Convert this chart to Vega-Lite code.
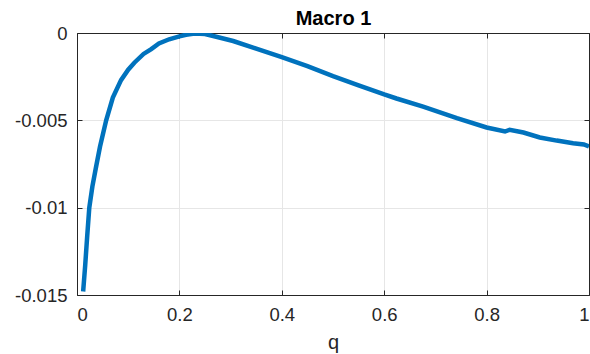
{
  "$schema": "https://vega.github.io/schema/vega-lite/v6.json",
  "width": 512,
  "height": 262,
  "autosize": "none",
  "padding": {"left": 77, "top": 33, "right": 1, "bottom": 59},
  "background": "white",
  "config": {
    "view": {"stroke": null},
    "font": "Liberation Sans",
    "axis": {
      "labelFont": "Liberation Sans",
      "titleFont": "Liberation Sans",
      "labelColor": "#262626",
      "titleColor": "#262626",
      "domainColor": "#262626",
      "tickColor": "#262626",
      "gridColor": "#e6e6e6",
      "gridWidth": 1,
      "domainWidth": 1,
      "tickWidth": 1
    }
  },
  "data": {
    "values": [
      {"q": 0.012, "v": -0.0148},
      {"q": 0.016, "v": -0.0133},
      {"q": 0.020, "v": -0.0116},
      {"q": 0.024, "v": -0.0100},
      {"q": 0.030, "v": -0.0088},
      {"q": 0.037, "v": -0.0077},
      {"q": 0.045, "v": -0.0065},
      {"q": 0.057, "v": -0.0050},
      {"q": 0.070, "v": -0.0037},
      {"q": 0.086, "v": -0.0027},
      {"q": 0.100, "v": -0.0021},
      {"q": 0.112, "v": -0.0017},
      {"q": 0.130, "v": -0.0012},
      {"q": 0.145, "v": -0.00092},
      {"q": 0.160, "v": -0.0006},
      {"q": 0.180, "v": -0.00036},
      {"q": 0.200, "v": -0.00019},
      {"q": 0.213, "v": -0.0001},
      {"q": 0.230, "v": -0.00003},
      {"q": 0.250, "v": -0.00006},
      {"q": 0.270, "v": -0.0002},
      {"q": 0.305, "v": -0.00046},
      {"q": 0.350, "v": -0.0009},
      {"q": 0.400, "v": -0.00138},
      {"q": 0.450, "v": -0.0019},
      {"q": 0.500, "v": -0.00247},
      {"q": 0.550, "v": -0.0030},
      {"q": 0.600, "v": -0.00352},
      {"q": 0.624, "v": -0.00375},
      {"q": 0.676, "v": -0.00421},
      {"q": 0.742, "v": -0.00488},
      {"q": 0.800, "v": -0.00541},
      {"q": 0.836, "v": -0.00564},
      {"q": 0.845, "v": -0.00554},
      {"q": 0.872, "v": -0.0057},
      {"q": 0.904, "v": -0.00598},
      {"q": 0.937, "v": -0.00616},
      {"q": 0.969, "v": -0.00631},
      {"q": 0.990, "v": -0.00638},
      {"q": 1.000, "v": -0.0065}
    ]
  },
  "layer": [
    {
      "mark": {"type": "line", "color": "#0072BD", "strokeWidth": 4.5, "clip": true},
      "encoding": {
        "x": {
          "field": "q", "type": "quantitative",
          "scale": {"domain": [0, 1], "nice": false},
          "axis": {
            "values": [0, 0.2, 0.4, 0.6, 0.8, 1],
            "labelFontSize": 18.5,
            "labelPadding": 15,
            "tickSize": -5,
            "grid": true,
            "title": "q",
            "titleFontSize": 20,
            "titleFontWeight": "normal",
            "titlePadding": 9,
            "labelExpr": "'' + datum.value"
          }
        },
        "y": {
          "field": "v", "type": "quantitative",
          "scale": {"domain": [-0.015, 0], "nice": false, "zero": false},
          "axis": {
            "values": [-0.015, -0.01, -0.005, 0],
            "labelFontSize": 18.5,
            "labelPadding": 15,
            "tickSize": -5,
            "grid": true,
            "title": null,
            "labelExpr": "'' + datum.value"
          }
        }
      }
    },
    {
      "mark": {"type": "line", "opacity": 0},
      "encoding": {
        "x": {
          "field": "q", "type": "quantitative",
          "axis": {
            "orient": "top", "values": [0, 0.2, 0.4, 0.6, 0.8, 1], "labels": false, "grid": false, "tickSize": -5,
            "title": "Macro 1", "titleFontSize": 20, "titleFontWeight": "bold", "titleColor": "#000000", "titlePadding": 4
          }
        },
        "y": {
          "field": "v", "type": "quantitative",
          "axis": {"orient": "right", "values": [-0.015, -0.01, -0.005, 0], "labels": false, "grid": false, "tickSize": -5, "title": null}
        }
      }
    }
  ],
  "resolve": {"axis": {"x": "independent", "y": "independent"}}
}
